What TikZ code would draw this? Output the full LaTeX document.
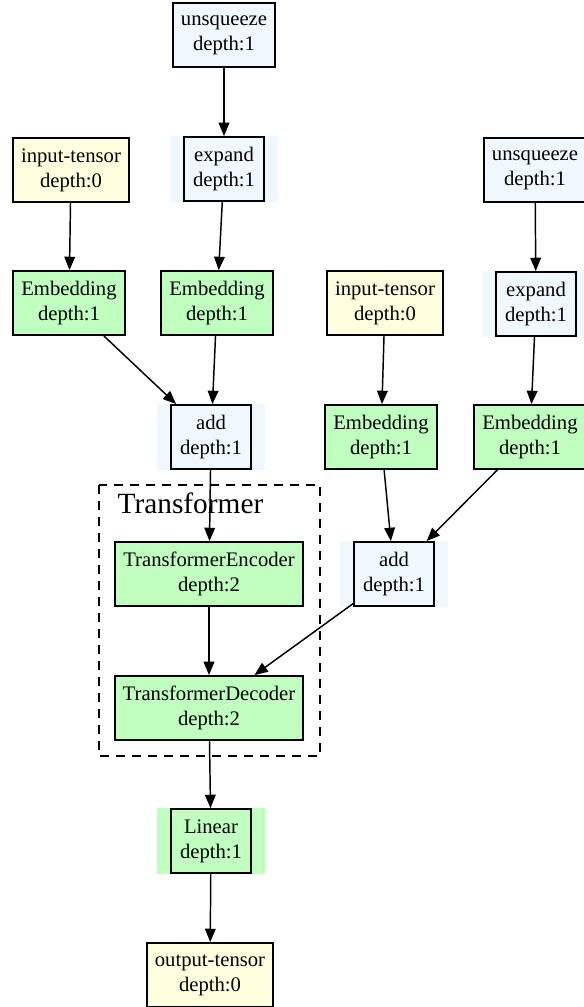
\documentclass[tikz,border=0pt]{standalone}
\usepackage{fontspec}
\setmainfont{Liberation Serif}
\usetikzlibrary{arrows.meta,backgrounds}
\definecolor{nodeblue}{HTML}{F0F8FF}
\definecolor{nodegreen}{HTML}{C1FFC1}
\definecolor{nodeyellow}{HTML}{FFFFE0}
\tikzset{
	blk/.style={draw,line width=1.4pt,align=center,minimum width=60pt,minimum height=48pt,
		inner xsep=6pt,font=\fontsize{15.5}{18.75}\selectfont},
	modblk/.style={blk,fill=nodegreen},
	fnblk/.style={blk,fill=nodeblue},
	tensorblk/.style={blk,fill=nodeyellow},
	flow/.style={line width=1.1pt,-{Triangle[length=10pt,width=8pt]}},
}
\begin{document}
\begin{tikzpicture}[x=0.75pt,y=-0.75pt]
	\useasboundingbox (0,0) rectangle (584,1007);
	% cluster
	\draw [line width=1pt,dash pattern=on 7pt off 5pt] (99,485) rectangle (320,756);
	\node [font=\fontsize{22}{26}\selectfont,anchor=west] at (113,503) (trlabel) {Transformer};
	% left branch
	\node [fnblk] at (224,35) (unsq1) {unsqueeze\\depth:1};
	\node [fnblk] at (224,169) (expd1) {expand\\depth:1};
	\node [tensorblk] at (71,170) (inp1) {input-tensor\\depth:0};
	\node [modblk] at (69,303) (emb1) {Embedding\\depth:1};
	\node [modblk] at (217,303) (emb2) {Embedding\\depth:1};
	\node [fnblk] at (211,437) (add1) {add\\depth:1};
	% right branch
	\node [fnblk] at (535,170) (unsq2) {unsqueeze\\depth:1};
	\node [fnblk] at (536,304) (expd2) {expand\\depth:1};
	\node [tensorblk] at (385,303) (inp2) {input-tensor\\depth:0};
	\node [modblk] at (381,437) (emb3) {Embedding\\depth:1};
	\node [modblk] at (530,437) (emb4) {Embedding\\depth:1};
	\node [fnblk] at (394,574) (add2) {add\\depth:1};
	% transformer and head
	\node [modblk] at (209,574) (enc) {TransformerEncoder\\depth:2};
	\node [modblk] at (209,708) (dec) {TransformerDecoder\\depth:2};
	\node [modblk] at (211,841) (lin) {Linear\\depth:1};
	\node [tensorblk] at (210,975) (out) {output-tensor\\depth:0};
	\begin{scope}[on background layer]
		\foreach \n in {expd1,add1,expd2,add2}{
			\fill [nodeblue] ([xshift=-9.5pt]\n.south west) rectangle ([xshift=9.5pt]\n.north east);
		}
		\fill [nodegreen] ([xshift=-9.5pt]lin.south west) rectangle ([xshift=9.5pt]lin.north east);
	\end{scope}
	\foreach \a/\b in {unsq1/expd1, expd1/emb2, inp1/emb1, emb1/add1, emb2/add1, add1/enc,
		unsq2/expd2, expd2/emb4, inp2/emb3, emb3/add2, emb4/add2, add2/dec,
		enc/dec, dec/lin, lin/out}{
		\draw [flow] (\a) -- (\b);
	}
\end{tikzpicture}
\end{document}
